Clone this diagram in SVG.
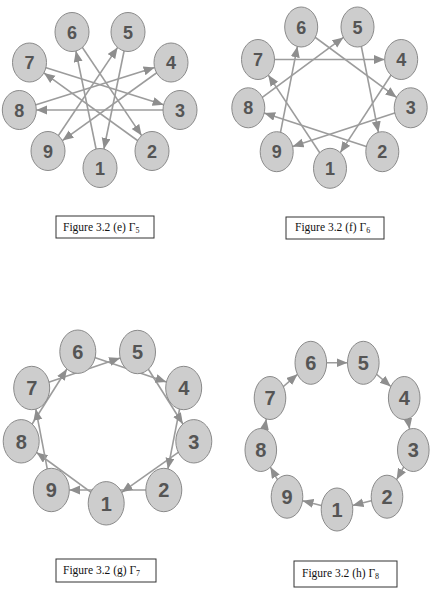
<svg xmlns="http://www.w3.org/2000/svg" width="435" height="598" viewBox="0 0 435 598">
<defs>
<marker id="ah" markerUnits="userSpaceOnUse" markerWidth="12" markerHeight="10" refX="11" refY="4.5" orient="auto">
<path d="M0,0 L11,4.5 L0,9 z" fill="#8e8e8e"/>
</marker>
<style>
.e line{stroke:#9c9c9c;stroke-width:1.6;fill:none;marker-end:url(#ah)}
.n ellipse{fill:#cdcdcd;stroke:#8a8a8a;stroke-width:1}
.n text{font-family:"Liberation Sans",Arial,sans-serif;font-weight:bold;fill:#555;text-anchor:middle}
.s text{font-size:18px}
.b text{font-size:20px}
.cap rect{fill:#fff;stroke:#333;stroke-width:1}
.cap text{font-family:"Liberation Serif","Times New Roman",serif;font-size:11.5px;fill:#111}
</style>
</defs>
<rect width="435" height="598" fill="#fff"/>

<!-- (e) Gamma5 -->
<g id="edges-e" class="e">
<line x1="100" y1="168" x2="75.9" y2="51"/>
<line x1="152" y1="151" x2="43.9" y2="72.9"/>
<line x1="180" y1="110" x2="36.3" y2="110"/>
<line x1="171" y1="62.5" x2="62.4" y2="140.6"/>
<line x1="128" y1="32" x2="103.9" y2="149"/>
<line x1="72" y1="32" x2="141.6" y2="135.6"/>
<line x1="29.5" y1="62.5" x2="163.6" y2="104.8"/>
<line x1="19.3" y1="110" x2="154.6" y2="67.6"/>
<line x1="48" y1="151" x2="117.6" y2="47.4"/>
</g>
<g class="n s">
<g id="e1"><ellipse cx="100" cy="168" rx="17" ry="19.5"/><text x="100" y="174.5">1</text></g>
<g id="e2"><ellipse cx="152" cy="151" rx="17" ry="19.5"/><text x="152" y="157.5">2</text></g>
<g id="e3"><ellipse cx="180" cy="110" rx="17" ry="19.5"/><text x="180" y="116.5">3</text></g>
<g id="e4"><ellipse cx="171" cy="62.5" rx="17" ry="19.5"/><text x="171" y="69">4</text></g>
<g id="e5"><ellipse cx="128" cy="32" rx="17" ry="19.5"/><text x="128" y="38.5">5</text></g>
<g id="e6"><ellipse cx="72" cy="32" rx="17" ry="19.5"/><text x="72" y="38.5">6</text></g>
<g id="e7"><ellipse cx="29.5" cy="62.5" rx="17" ry="19.5"/><text x="29.5" y="69">7</text></g>
<g id="e8"><ellipse cx="19.3" cy="110" rx="17" ry="19.5"/><text x="19.3" y="116.5">8</text></g>
<g id="e9"><ellipse cx="48" cy="151" rx="17" ry="19.5"/><text x="48" y="157.5">9</text></g>
</g>
<g id="cap-e" class="cap"><rect x="56" y="216" width="98" height="22"/><text x="63" y="231">Figure 3.2 (e) Γ<tspan font-size="8" dy="2">5</tspan></text></g>

<!-- (f) Gamma6 -->
<g id="edges-f" class="e">
<line x1="330" y1="168.3" x2="268.3" y2="75.1"/>
<line x1="382.3" y1="151.7" x2="264.2" y2="113"/>
<line x1="410.7" y1="107.8" x2="292.6" y2="146.5"/>
<line x1="401.2" y1="59.5" x2="340.3" y2="152.6"/>
<line x1="357.5" y1="27" x2="378.4" y2="132.3"/>
<line x1="301.2" y1="27" x2="396.6" y2="97.4"/>
<line x1="258" y1="59.5" x2="384.7" y2="59.5"/>
<line x1="248.3" y1="107.8" x2="343.4" y2="37.4"/>
<line x1="276.7" y1="151.7" x2="297.4" y2="46.4"/>
</g>
<g class="n s">
<g id="f1"><ellipse cx="330" cy="168.3" rx="16.5" ry="20"/><text x="330" y="174.8">1</text></g>
<g id="f2"><ellipse cx="382.3" cy="151.7" rx="16.5" ry="20"/><text x="382.3" y="158.2">2</text></g>
<g id="f3"><ellipse cx="410.7" cy="107.8" rx="16.5" ry="20"/><text x="410.7" y="114.3">3</text></g>
<g id="f4"><ellipse cx="401.2" cy="59.5" rx="16.5" ry="20"/><text x="401.2" y="66">4</text></g>
<g id="f5"><ellipse cx="357.5" cy="27" rx="16.5" ry="20"/><text x="357.5" y="33.5">5</text></g>
<g id="f6"><ellipse cx="301.2" cy="27" rx="16.5" ry="20"/><text x="301.2" y="33.5">6</text></g>
<g id="f7"><ellipse cx="258" cy="59.5" rx="16.5" ry="20"/><text x="258" y="66">7</text></g>
<g id="f8"><ellipse cx="248.3" cy="107.8" rx="16.5" ry="20"/><text x="248.3" y="114.3">8</text></g>
<g id="f9"><ellipse cx="276.7" cy="151.7" rx="16.5" ry="20"/><text x="276.7" y="158.2">9</text></g>
</g>
<g id="cap-f" class="cap"><rect x="286" y="217" width="98" height="22"/><text x="295" y="231">Figure 3.2 (f) Γ<tspan font-size="8" dy="2">6</tspan></text></g>

<!-- (g) Gamma7 -->
<g id="edges-g" class="e">
<line x1="106.2" y1="503.3" x2="36.6" y2="452.5"/>
<line x1="163.8" y1="490" x2="69.3" y2="490"/>
<line x1="193.8" y1="441.3" x2="121.7" y2="492.3"/>
<line x1="183.7" y1="388" x2="167.9" y2="468.9"/>
<line x1="137.5" y1="352" x2="182.9" y2="424"/>
<line x1="77.8" y1="351.7" x2="166.4" y2="382.1"/>
<line x1="31.7" y1="388" x2="120.2" y2="357.9"/>
<line x1="21.2" y1="441.3" x2="66.9" y2="369"/>
<line x1="51.3" y1="490" x2="35.8" y2="409.1"/>
</g>
<g class="n b">
<g id="g1"><ellipse cx="106.2" cy="503.3" rx="18" ry="21.7"/><text x="106.2" y="510.5">1</text></g>
<g id="g2"><ellipse cx="163.8" cy="490" rx="18" ry="21.7"/><text x="163.8" y="497.2">2</text></g>
<g id="g3"><ellipse cx="193.8" cy="441.3" rx="18" ry="21.7"/><text x="193.8" y="448.5">3</text></g>
<g id="g4"><ellipse cx="183.7" cy="388" rx="18" ry="21.7"/><text x="183.7" y="395.2">4</text></g>
<g id="g5"><ellipse cx="137.5" cy="352" rx="18" ry="21.7"/><text x="137.5" y="359.2">5</text></g>
<g id="g6"><ellipse cx="77.8" cy="351.7" rx="18" ry="21.7"/><text x="77.8" y="358.9">6</text></g>
<g id="g7"><ellipse cx="31.7" cy="388" rx="18" ry="21.7"/><text x="31.7" y="395.2">7</text></g>
<g id="g8"><ellipse cx="21.2" cy="441.3" rx="18" ry="21.7"/><text x="21.2" y="448.5">8</text></g>
<g id="g9"><ellipse cx="51.3" cy="490" rx="18" ry="21.7"/><text x="51.3" y="497.2">9</text></g>
</g>
<g id="cap-g" class="cap"><rect x="56" y="559" width="100" height="23"/><text x="63" y="574">Figure 3.2 (g) Γ<tspan font-size="8" dy="2">7</tspan></text></g>

<!-- (h) Gamma8 -->
<g id="edges-h" class="e">
<line x1="310.8" y1="362.8" x2="347.5" y2="362.8"/>
<line x1="363.3" y1="362.8" x2="390.8" y2="386.5"/>
<line x1="404.2" y1="398" x2="409.6" y2="429.1"/>
<line x1="413.3" y1="450" x2="396.6" y2="479.6"/>
<line x1="387" y1="496.7" x2="352.5" y2="505.5"/>
<line x1="337" y1="509.5" x2="302.5" y2="500.7"/>
<line x1="287" y1="496.7" x2="270.4" y2="467.1"/>
<line x1="260.8" y1="450" x2="266.3" y2="418.9"/>
<line x1="270" y1="398" x2="297.5" y2="374.3"/>
</g>
<g class="n b">
<g id="h1"><ellipse cx="337" cy="509.5" rx="15.8" ry="21.5"/><text x="337" y="516.7">1</text></g>
<g id="h2"><ellipse cx="387" cy="496.7" rx="15.8" ry="21.5"/><text x="387" y="503.9">2</text></g>
<g id="h3"><ellipse cx="413.3" cy="450" rx="15.8" ry="21.5"/><text x="413.3" y="457.2">3</text></g>
<g id="h4"><ellipse cx="404.2" cy="398" rx="15.8" ry="21.5"/><text x="404.2" y="405.2">4</text></g>
<g id="h5"><ellipse cx="363.3" cy="362.8" rx="15.8" ry="21.5"/><text x="363.3" y="370">5</text></g>
<g id="h6"><ellipse cx="310.8" cy="362.8" rx="15.8" ry="21.5"/><text x="310.8" y="370">6</text></g>
<g id="h7"><ellipse cx="270" cy="398" rx="15.8" ry="21.5"/><text x="270" y="405.2">7</text></g>
<g id="h8"><ellipse cx="260.8" cy="450" rx="15.8" ry="21.5"/><text x="260.8" y="457.2">8</text></g>
<g id="h9"><ellipse cx="287" cy="496.7" rx="15.8" ry="21.5"/><text x="287" y="503.9">9</text></g>
</g>
<g id="cap-h" class="cap"><rect x="294" y="561" width="103" height="26"/><text x="302" y="577">Figure 3.2 (h) Γ<tspan font-size="8" dy="2">8</tspan></text></g>
</svg>
